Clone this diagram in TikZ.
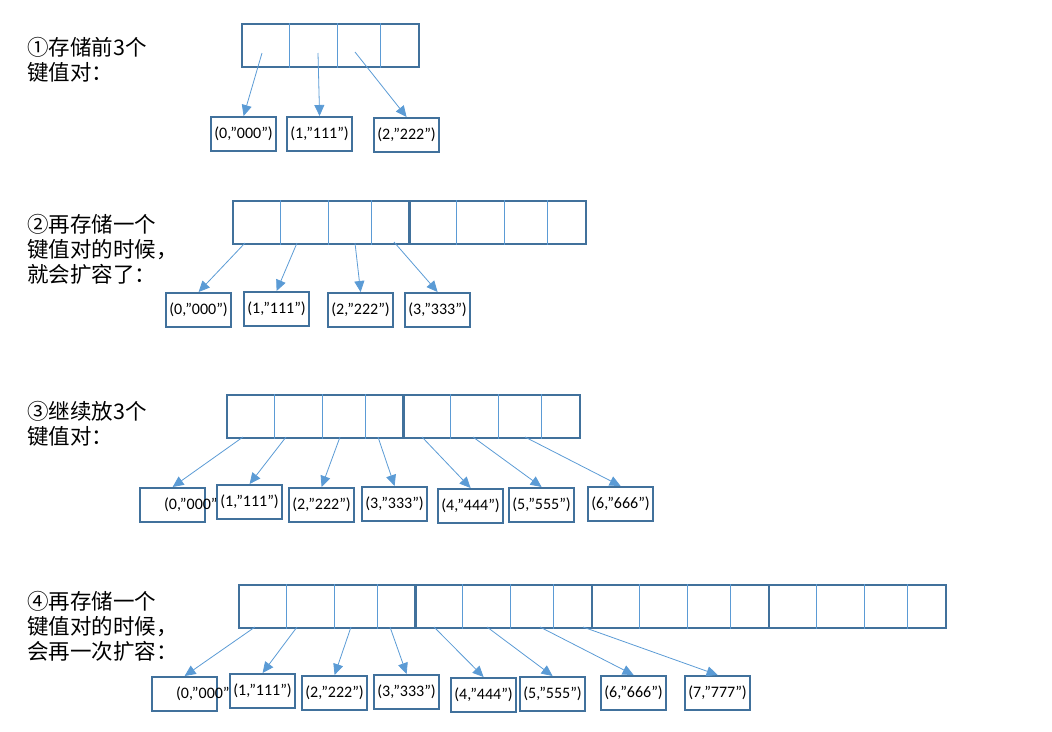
\documentclass[tikz,border=0pt]{standalone}
\usepackage{fontspec}
\setmainfont{Carlito}
\newfontfamily\cjkfont{Noto Sans CJK SC}
\usetikzlibrary{arrows.meta,positioning}
\definecolor{framecol}{HTML}{41719C}
\definecolor{linkcol}{HTML}{5B9BD5}
\tikzset{
  stepnote/.style={anchor=north west, align=left, inner sep=0pt,
    font=\cjkfont\fontsize{21.5}{25}\selectfont},
  bucket/.style={draw=framecol, line width=2.2pt, minimum width=177pt,
    minimum height=43pt, inner sep=0pt, anchor=north west},
  slot/.style={draw=linkcol, line width=0.8pt},
  entry/.style={draw=framecol, line width=2.2pt, fill=white, minimum width=65pt,
    minimum height=34pt, inner sep=0pt, anchor=north west,
    font=\fontsize{16}{18}\selectfont},
  link/.style={-{Triangle[length=11pt,width=10pt]}, draw=linkcol, line width=0.8pt}
}

\begin{document}
\begin{tikzpicture}[x=1pt,y=-1pt]
    \useasboundingbox (0,0) rectangle (1052,731);

    % step notes
    \node[stepnote] (note1) at (27,37) {①存储前3个\\键值对：};
    \node[stepnote] (note2) at (27,214) {②再存储一个\\键值对的时候，\\就会扩容了：};
    \node[stepnote] (note3) at (27,401) {③继续放3个\\键值对：};
    \node[stepnote] (note4) at (27,591) {④再存储一个\\键值对的时候，\\会再一次扩容：};

    % bucket arrays
    \foreach \r/\gx/\gy in {1/241/23, 2/232/200, 2/408/200, 3/226/394, 3/402/394,
                            4/238/584, 4/414/584, 4/591/584, 4/768/584} {
      \node[bucket] (arr\r-\gx) at (\gx,\gy) {};
      \foreach \d in {48,96,139}
        \draw[slot] ([xshift=\d pt]arr\r-\gx.north west) -- ([xshift=\d pt]arr\r-\gx.south west);
    }

    % row 1
    \node[entry] (e1-0) at (210,116) {(0,”000”)};
    \node[entry] (e1-1) at (286,116) {(1,”111”)};
    \node[entry] (e1-2) at (373,117) {(2,”222”)};
    \coordinate (s1-0) at (262,53);
    \coordinate (s1-1) at (318,53);
    \coordinate (s1-2) at (355,52);

    % row 2
    \node[entry] (e2-0) at (165,292) {(0,”000”)};
    \node[entry] (e2-1) at (243,291) {(1,”111”)};
    \node[entry] (e2-2) at (327,292) {(2,”222”)};
    \node[entry] (e2-3) at (404,292) {(3,”333”)};
    \coordinate (s2-0) at (245,243);
    \coordinate (s2-1) at (297,243);
    \coordinate (s2-2) at (355,243);
    \coordinate (s2-3) at (394,242);

    % row 3
    \node[entry] (e3-0) at (139,487) {\rlap{(0,”000”)}\hspace*{17pt}};
    \node[entry] (e3-1) at (216,484) {(1,”111”)};
    \node[entry] (e3-2) at (288,487) {(2,”222”)};
    \node[entry] (e3-3) at (361,486) {(3,”333”)};
    \node[entry] (e3-4) at (437,488) {(4,”444”)};
    \node[entry] (e3-5) at (508,487) {(5,”555”)};
    \node[entry] (e3-6) at (587,486) {(6,”666”)};
    \foreach \k/\sx in {0/243,1/286,2/340,3/378,4/422,5/473,6/525}
      \coordinate (s3-\k) at (\sx,437);

    % row 4
    \node[entry] (e4-0) at (151,676) {\rlap{(0,”000”)}\hspace*{17pt}};
    \node[entry] (e4-1) at (229,673) {(1,”111”)};
    \node[entry] (e4-2) at (301,675) {(2,”222”)};
    \node[entry] (e4-3) at (373,674) {(3,”333”)};
    \node[entry] (e4-4) at (450,677) {(4,”444”)};
    \node[entry] (e4-5) at (519,676) {(5,”555”)};
    \node[entry] (e4-6) at (600,675) {(6,”666”)};
    \node[entry] (e4-7) at (684,675) {(7,”777”)};
    \foreach \k/\sx in {0/255,1/297,2/351,3/390,4/434,5/487,6/540,7/583}
      \coordinate (s4-\k) at (\sx,627);

    % links
    \foreach \k in {0,1,2} \draw[link] (s1-\k) -- (e1-\k.north);
    \foreach \k in {0,...,3} \draw[link] (s2-\k) -- (e2-\k.north);
    \foreach \k in {0,...,6} \draw[link] (s3-\k) -- (e3-\k.north);
    \foreach \k in {0,...,7} \draw[link] (s4-\k) -- (e4-\k.north);
  \end{tikzpicture}
\end{document}
